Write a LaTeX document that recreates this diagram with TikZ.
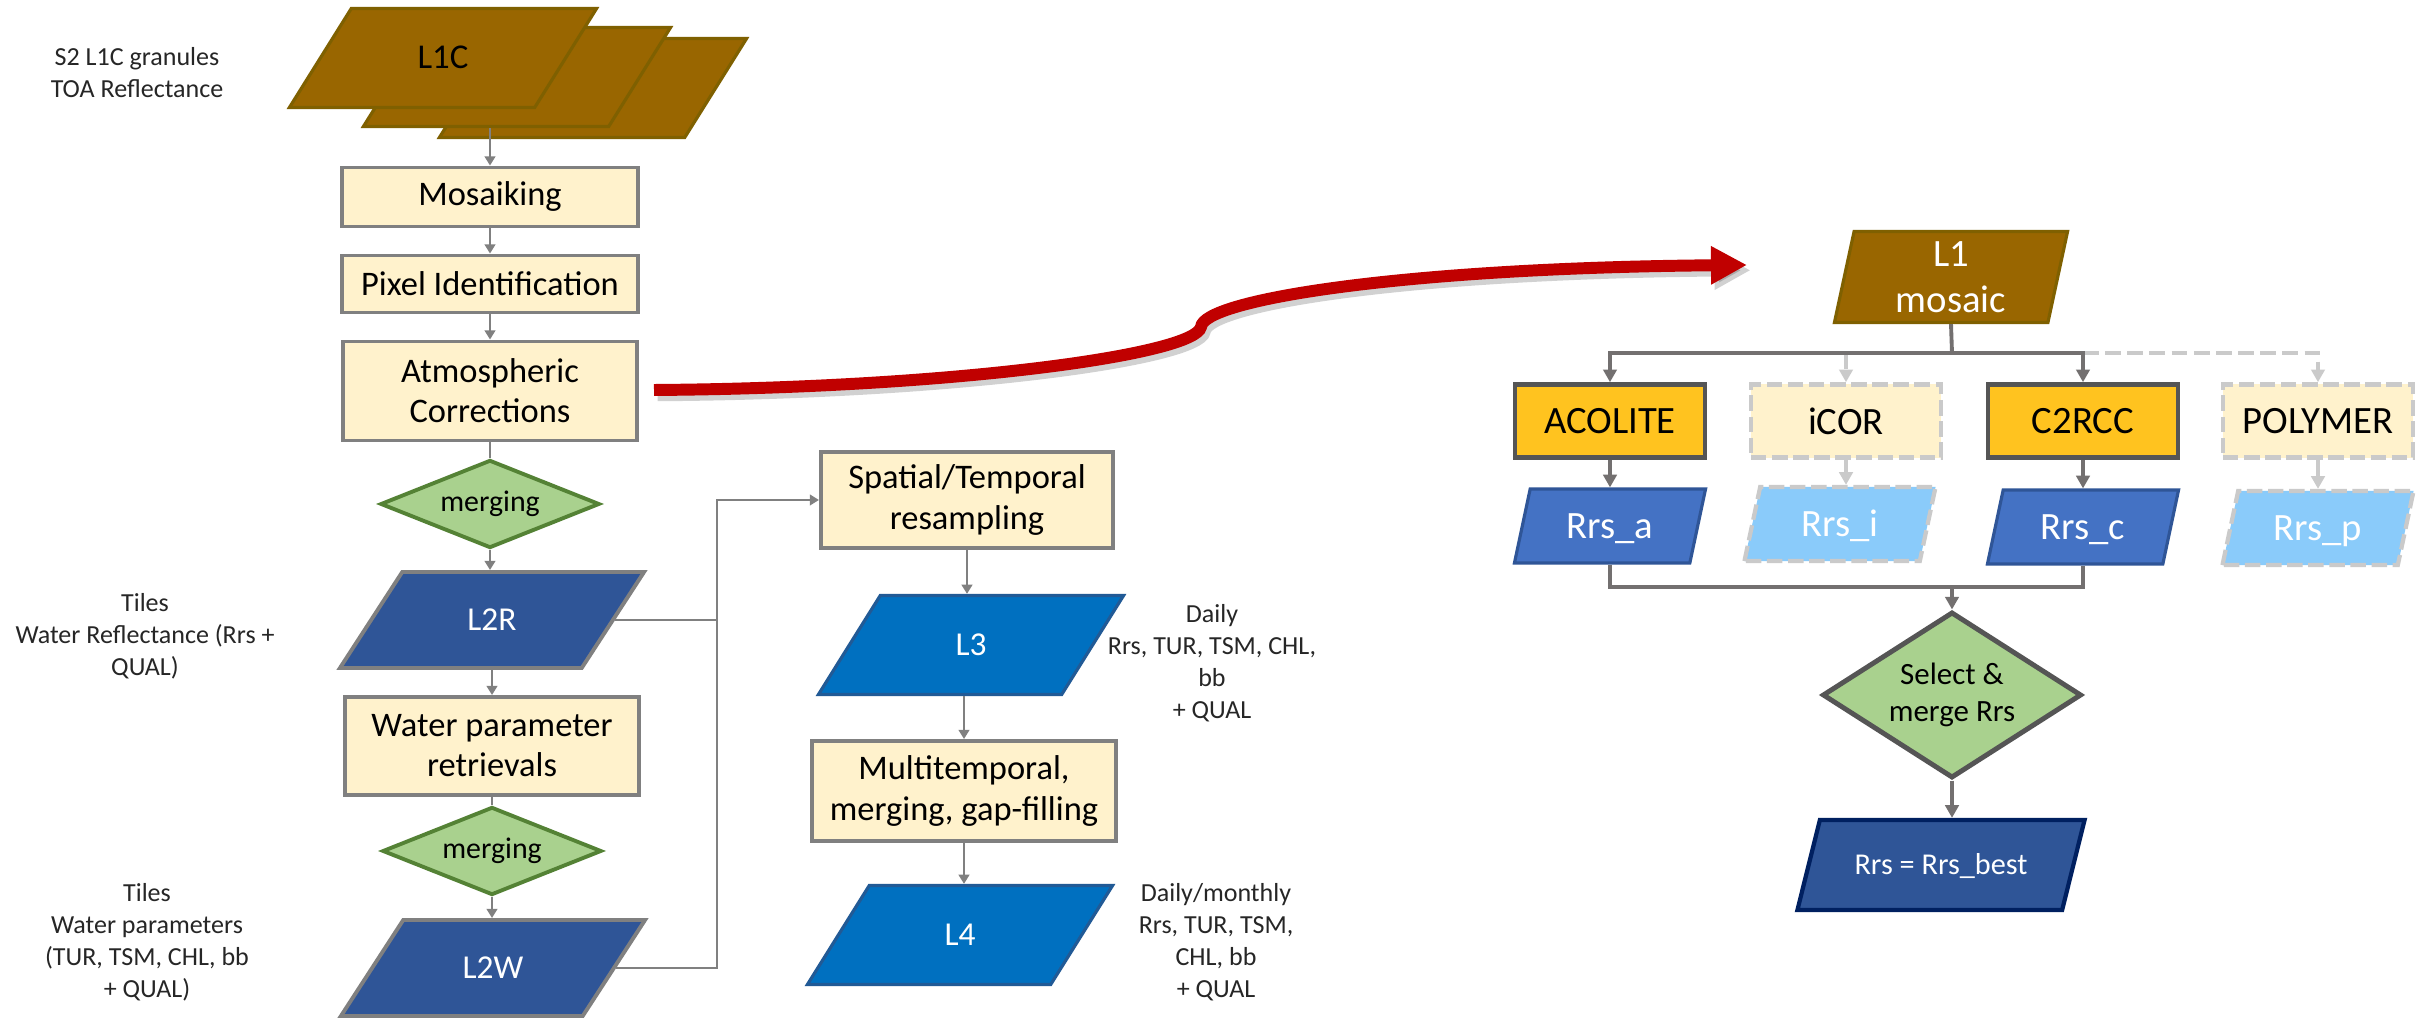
\documentclass[tikz,border=0pt]{standalone}
\usepackage{fontspec}
\setmainfont{Carlito}
\usepackage{tikz}
\usetikzlibrary{arrows.meta,shapes.geometric}
\definecolor{l1brown}{HTML}{996600}
\definecolor{l1edge}{HTML}{7F6000}
\definecolor{procfill}{HTML}{FFF2CC}
\definecolor{boxgrey}{HTML}{808080}
\definecolor{mergefill}{HTML}{A9D18E}
\definecolor{mergeedge}{HTML}{548235}
\definecolor{tileblue}{HTML}{2F5597}
\definecolor{gridblue}{HTML}{0070C0}
\definecolor{gridedge}{HTML}{215A96}
\definecolor{acgold}{HTML}{FFC31F}
\definecolor{acedge}{HTML}{555555}
\definecolor{rrsblue}{HTML}{4472C4}
\definecolor{rrslight}{HTML}{8ACBFA}
\definecolor{optgrey}{HTML}{CACACA}
\definecolor{linkgrey}{HTML}{737070}
\definecolor{bestedge}{HTML}{002060}
\definecolor{acred}{HTML}{C00000}

\begin{document}
\begin{tikzpicture}[x=0.01cm, y=-0.01cm,
  proc/.style={draw=boxgrey, fill=procfill, line width=1.1pt, align=center, inner sep=0pt,
    font=\fontsize{9.8}{11.4}\selectfont},
  merge/.style={diamond, aspect=2.5, draw=mergeedge, fill=mergefill, line width=1.1pt, inner sep=0pt,
    minimum width=2.19cm, minimum height=0.88cm, font=\fontsize{8.5}{10}\selectfont},
  para/.style 2 args={trapezium, trapezium stretches body, trapezium left angle=#1,
    trapezium right angle=#2, inner sep=0pt, align=center},
  granule/.style={para={58}{122}, draw=l1edge, fill=l1brown, line width=0.9pt,
    minimum width=3.07cm, text height=0.603cm, text depth=0.387cm, font=\fontsize{9.9}{12}\selectfont},
  tile/.style={para={57}{123}, draw=boxgrey, fill=tileblue, line width=1.1pt, text=white,
    minimum width=3.04cm, text height=0.588cm, text depth=0.372cm, font=\fontsize{9.5}{11}\selectfont},
  grid/.style={para={58}{122}, draw=gridedge, fill=gridblue, line width=0.9pt, text=white,
    minimum width=3.05cm, text height=0.603cm, text depth=0.387cm, font=\fontsize{9.5}{11}\selectfont},
  note/.style={align=center, text=black!85, font=\fontsize{7.4}{9.1}\selectfont},
  link/.style={draw=boxgrey, line width=0.7pt},
  linkar/.style={link, -{Triangle[length=2.6pt,width=3pt]}},
  alg/.style={draw=acedge, fill=acgold, line width=1.3pt, minimum width=1.9cm, minimum height=0.73cm,
    inner sep=0pt, font=\fontsize{11}{13}\selectfont},
  optalg/.style={alg, draw=optgrey, fill=procfill, dash pattern=on 4.4pt off 1.6pt},
  rrs/.style={para={78}{102}, draw=tileblue, fill=rrsblue, line width=0.9pt, text=white,
    minimum width=1.91cm, text height=0.495cm, text depth=0.245cm, font=\fontsize{11}{13}\selectfont},
  optrrs/.style={rrs, draw=optgrey, fill=rrslight, line width=1.2pt, dash pattern=on 4.4pt off 1.6pt},
  select/.style={diamond, aspect=1.56, draw=acedge, fill=mergefill, line width=1.4pt, inner sep=0pt,
    minimum width=2.59cm, minimum height=1.66cm, align=center, font=\fontsize{8.8}{10.5}\selectfont},
  best/.style={para={76}{104}, draw=bestedge, fill=tileblue, line width=1.2pt, text=white,
    minimum width=2.87cm, text height=0.5475cm, text depth=0.3525cm, font=\fontsize{8.6}{10}\selectfont},
  feed/.style={draw=linkgrey, line width=1.1pt},
  feedar/.style={feed, -{Triangle[length=3.6pt,width=3.8pt]}},
  optfeed/.style={draw=optgrey, line width=1.1pt, dash pattern=on 4.5pt off 1.8pt},
  optfeedar/.style={optfeed, -{Triangle[length=3.6pt,width=3.8pt]}}]
\path[use as bounding box, fill=white] (0,0) rectangle (2423,1022);

\node[granule] (l1cc) at (593,88) {};
\node[granule] (l1cb) at (517,77) {};
\node[granule] (l1c) at (443,58) {L1C};
\node[note] (s2note) at (137,73) {S2 L1C granules\\TOA Reflectance};

\node[proc, minimum width=2.95cm, minimum height=0.59cm] (mos) at (490,197) {Mosaiking};
\node[proc, minimum width=2.95cm, minimum height=0.57cm] (pix) at (490,284) {Pixel Identification};
\node[proc, minimum width=2.93cm, minimum height=0.99cm] (atm) at (490,391) {Atmospheric\\Corrections};
\node[merge] (mrg1) at (490,504) {merging};
\node[tile] (l2r) at (492,620) {L2R};
\node[proc, minimum width=2.93cm, minimum height=0.98cm] (wpr) at (492,746) {Water parameter\\retrievals};
\node[merge] (mrg2) at (492,851) {merging};
\node[tile] (l2w) at (493,968) {L2W};
\node[note] (l2rnote) at (145,636) {Tiles\\Water Reflectance (Rrs +\\QUAL)};
\node[note] (l2wnote) at (147,942) {Tiles\\Water parameters\\(TUR, TSM, CHL, bb\\+ QUAL)};

\draw[linkar] (mos.north |- l1cb.south) -- (mos.north);
\draw[linkar] (mos.south) -- (mos.south |- pix.north);
\draw[linkar] (pix.south) -- (pix.south |- atm.north);
\draw[link] (atm.south) -- (mrg1.north);
\draw[linkar] (mrg1.south) -- (mrg1.south |- l2r.north);
\draw[linkar] (l2r.south) -- (l2r.south |- wpr.north);
\draw[link] (wpr.south) -- (mrg2.north);
\draw[linkar] (mrg2.south) -- (mrg2.south |- l2w.north);

\node[proc, minimum width=2.92cm, minimum height=0.96cm] (spt) at (967,500) {Spatial/Temporal\\resampling};
\node[grid] (l3) at (971,645) {L3};
\node[proc, minimum width=3.03cm, minimum height=1.0cm] (mtf) at (964,791) {Multitemporal,\\merging, gap-filling};
\node[grid] (l4) at (960,935) {L4};
\node[note] (l3note) at (1212,663) {Daily\\Rrs, TUR, TSM, CHL,\\bb\\+ QUAL};
\node[note] (l4note) at (1216,942) {Daily/monthly\\Rrs, TUR, TSM,\\CHL, bb\\+ QUAL};

\coordinate (bus) at (717,0);
\draw[link] (l2r.east) -- (l2r.east -| bus);
\draw[linkar] (l2w.east) -| (bus |- spt.west) -- (spt.west);
\draw[linkar] (spt.south) -- (spt.south |- l3.north);
\draw[linkar] (mtf.north |- l3.south) -- (mtf.north);
\draw[linkar] (mtf.south) -- (mtf.south |- l4.north);

\coordinate (rstart) at (654,390);
\coordinate (rend) at (1747,265);
\draw[black, opacity=0.18, line width=3.4pt, transform canvas={xshift=1pt,yshift=-1.5pt},
  -{Triangle[length=0.36cm,width=0.36cm]}]
  (rstart) .. controls (950,388) and (1195,355) .. (1201,327) .. controls (1203,300) and (1400,268) .. (rend);
\draw[acred, line width=3.4pt, -{Triangle[length=0.36cm,width=0.36cm]}]
  (rstart) .. controls (950,388) and (1195,355) .. (1201,327) .. controls (1203,300) and (1400,268) .. (rend);

\node[para={76}{104}, draw=l1edge, fill=l1brown, line width=0.9pt, text=white, inner ysep=0.04cm,
  minimum width=2.33cm, minimum height=0.91cm, font=\fontsize{11}{13}\selectfont] (l1m) at (1951,277) {L1\\mosaic};
\coordinate (split) at (1952,353);
\node[alg] (acol) at (1610,421) {ACOLITE};
\node[optalg] (icor) at (1846,421) {iCOR};
\node[alg] (c2rcc) at (2083,421) {C2RCC};
\node[optalg] (poly) at (2318,421) {POLYMER};
\node[rrs] (rrsa) at (1610,526) {Rrs\_a};
\node[optrrs] (rrsi) at (1840,524) {Rrs\_i};
\node[rrs] (rrsc) at (2083,527) {Rrs\_c};
\node[optrrs] (rrsp) at (2318,528) {Rrs\_p};
\coordinate (join) at (1952,587);
\node[select] (sel) at (1952,695) {Select \&\\merge Rrs};
\node[best] (best) at (1941,865) {Rrs = Rrs\_best};

\draw[optfeedar] (c2rcc.north |- split) -| (poly.north);
\draw[optfeedar] (icor.north |- split) -- (icor.north);
\draw[feed] (l1m.south) -- (split);
\draw[feedar] (split) -| (acol.north);
\draw[feedar] (split) -| (c2rcc.north);
\draw[feedar] (acol.south) -- (acol.south |- rrsa.north);
\draw[optfeedar] (icor.south) -- (icor.south |- rrsi.north);
\draw[feedar] (c2rcc.south) -- (c2rcc.south |- rrsc.north);
\draw[optfeedar] (poly.south) -- (poly.south |- rrsp.north);
\draw[feed] (rrsa.south) |- (join) -| (rrsc.south);
\draw[feedar] (join) -- (sel.north);
\draw[feedar] (sel.south) -- (sel.south |- best.north);
\end{tikzpicture}
\end{document}
